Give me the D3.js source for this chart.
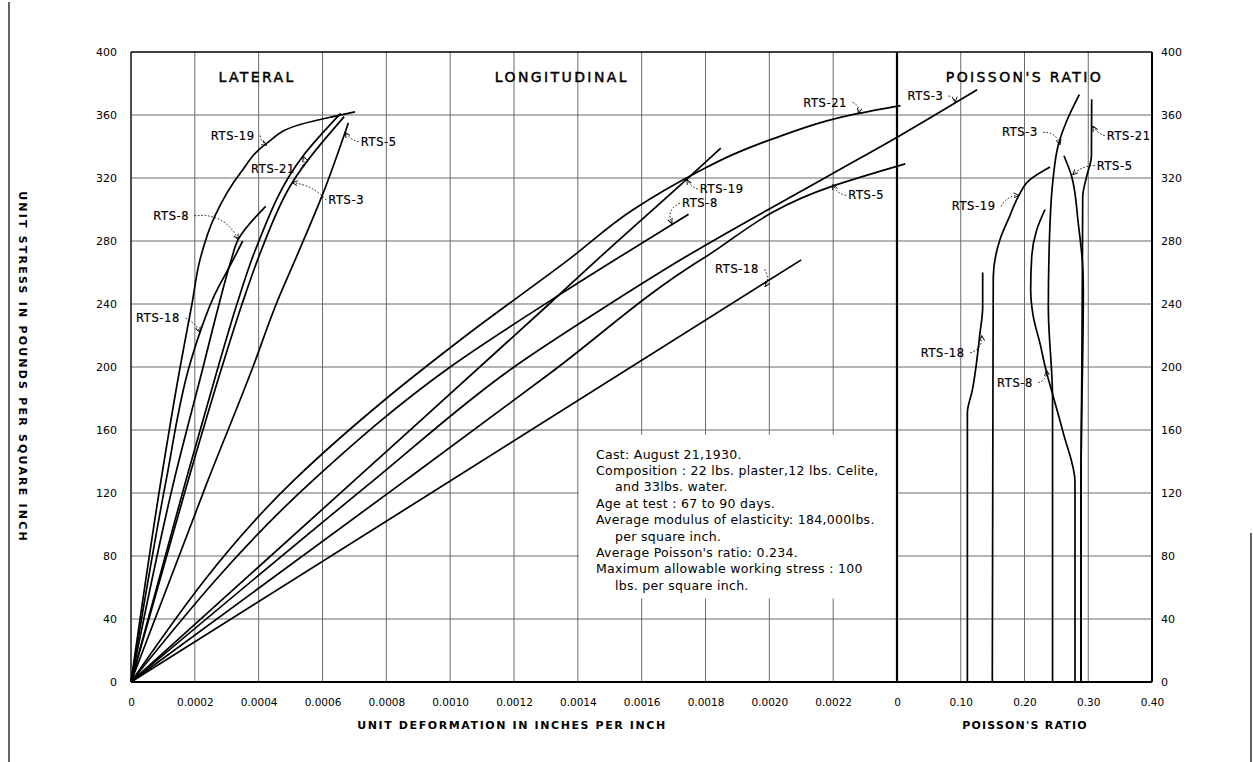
<!DOCTYPE html>
<html>
<head>
<meta charset="utf-8">
<script src="https://cdn.jsdelivr.net/npm/d3@7"></script>
<style>
  body { margin: 0; background: #fff; }
  svg { display: block; font-family: "DejaVu Sans", "Liberation Sans", sans-serif; }
</style>
</head>
<body>
<svg id="chart" width="1253" height="762"></svg>
<script>
// ---- tick values ----
const stressTicks  = [0, 40, 80, 120, 160, 200, 240, 280, 320, 360, 400];
const strainTicks  = [0, 0.0002, 0.0004, 0.0006, 0.0008, 0.0010, 0.0012, 0.0014, 0.0016, 0.0018, 0.0020, 0.0022];
const poissonTicks = [0, 0.10, 0.20, 0.30, 0.40];

// ---- lateral deformation: [unit strain, stress psi] ----
const latRTS19 = [[0,0],[0.000094,128],[0.000154,200],[0.000191,240],[0.000216,268],[0.000263,296],[0.000342,323],[0.000425,342],[0.00053,354],[0.000633,359],[0.000702,362]];
const latRTS18 = [[0,0],[0.00011,128],[0.000182,200],[0.000216,222],[0.00026,245],[0.00032,268],[0.00035,280]];
const latRTS8  = [[0,0],[0.000135,128],[0.000226,200],[0.000276,240],[0.000314,268],[0.000336,281],[0.000422,302]];
const latRTS21 = [[0,0],[0.000172,128],[0.000273,200],[0.000332,240],[0.000389,274],[0.000539,334],[0.000657,361]];
const latRTS3  = [[0,0],[0.000179,128],[0.000285,200],[0.000348,240],[0.000408,274],[0.000505,317],[0.000668,359]];
const latRTS5  = [[0,0],[0.000241,128],[0.000382,200],[0.000455,240],[0.000527,274],[0.000605,312],[0.000681,355]];

// ---- longitudinal deformation: [unit strain, stress psi] ----
const lonRTS21 = [[0,0],[0.00051,128],[0.0008,180],[0.00105,220],[0.00137,268],[0.001574,300],[0.001768,323],[0.001887,335],[0.002013,345],[0.002279,361],[0.002411,366]];
const lonRTS8  = [[0,0],[0.00057,128],[0.0010,200],[0.001313,242],[0.001524,269],[0.001747,297]];
const lonRTS19 = [[0,0],[0.0007,128],[0.00131,240],[0.00146,268],[0.00174,319],[0.001848,339]];
const lonRTS3  = [[0,0],[0.00076,128],[0.0012,200],[0.0015,240],[0.00173,269],[0.0022,323],[0.00241,347],[0.002651,376]];
const lonRTS5  = [[0,0],[0.00086,128],[0.001313,196],[0.001793,269],[0.0022,315],[0.002426,329]];
const lonRTS18 = [[0,0],[0.0021,268]];

// ---- Poisson's ratio: [ratio, stress psi] ----
const poiRTS18 = [[0.1104,0],[0.1104,171],[0.118,185],[0.130,221],[0.1344,238],[0.1344,260]];
const poiRTS19 = [[0.1495,0],[0.1505,180],[0.151,257],[0.1616,281],[0.177,296],[0.19,308],[0.2086,319],[0.24,327]];
const poiRTS3  = [[0.244,0],[0.244,180],[0.2374,238],[0.24,291],[0.2447,319],[0.253,341],[0.266,356],[0.286,373]];
const poiRTS8  = [[0.2792,0],[0.2792,127],[0.2609,158],[0.2453,181],[0.2337,198],[0.2243,215],[0.2138,232],[0.2097,249],[0.2113,270],[0.2191,287],[0.2322,300]];
const poiRTS5  = [[0.2886,0],[0.2886,126],[0.2923,249],[0.2913,264],[0.2844,291],[0.274,321],[0.262,334]];
const poiRTS21 = [[0.2886,0],[0.2886,126],[0.290,200],[0.291,280],[0.2913,308],[0.2975,321],[0.305,334],[0.3054,370]];

// ---- curve labels: text anchor (tx, ty) and leader tip (ax, ay), in each panel's units ----
const strainLabels = [
  {text: "RTS-19", tx: 0.000250, ty: 347, ax: 0.000425, ay: 341, bend: 0.3},
  {text: "RTS-21", tx: 0.000376, ty: 326, ax: 0.00054,  ay: 334, bend: 0.3},
  {text: "RTS-5",  tx: 0.00072,  ty: 343, ax: 0.000671, ay: 349, bend: -0.2},
  {text: "RTS-3",  tx: 0.000618, ty: 306, ax: 0.000505, ay: 317, bend: 0.2},
  {text: "RTS-8",  tx: 0.00007,  ty: 296, ax: 0.000336, ay: 281, bend: -0.35},
  {text: "RTS-18", tx: 0.0000157, ty: 231, ax: 0.000216, ay: 222, bend: -0.2},
  {text: "RTS-21", tx: 0.002106, ty: 368, ax: 0.00228,  ay: 361, bend: -0.4},
  {text: "RTS-19", tx: 0.001782, ty: 313, ax: 0.001742, ay: 319, bend: -0.2},
  {text: "RTS-8",  tx: 0.001726, ty: 304, ax: 0.001695, ay: 291, bend: 0.5},
  {text: "RTS-5",  tx: 0.002247, ty: 309, ax: 0.0022,   ay: 316, bend: -0.3},
  {text: "RTS-18", tx: 0.00183,  ty: 262, ax: 0.001987, ay: 251, bend: -0.3},
  {text: "RTS-3",  tx: 0.002433, ty: 372, ax: 0.002583, ay: 368, bend: -0.4}
];
const poissonLabels = [
  {text: "RTS-3",  tx: 0.1647, ty: 349, ax: 0.2557, ay: 341, bend: -0.4},
  {text: "RTS-21", tx: 0.329,  ty: 347, ax: 0.307,  ay: 353, bend: -0.2},
  {text: "RTS-5",  tx: 0.3133, ty: 328, ax: 0.2756, ay: 322, bend: 0.2},
  {text: "RTS-19", tx: 0.0858, ty: 302, ax: 0.1914, ay: 309, bend: -0.3},
  {text: "RTS-18", tx: 0.0372, ty: 209, ax: 0.1329, ay: 220, bend: 0.4},
  {text: "RTS-8",  tx: 0.1569, ty: 190, ax: 0.2348, ay: 198, bend: 0.4}
];

const sectionTitles = [
  {text: "LATERAL",         panel: "strain",  at: 0.000395},
  {text: "LONGITUDINAL",    panel: "strain",  at: 0.00135},
  {text: "POISSON'S RATIO", panel: "poisson", at: 0.2}
];

const noteLines = [
  {text: "Cast: August 21,1930.", indent: false},
  {text: "Composition : 22 lbs. plaster,12 lbs. Celite,", indent: false},
  {text: "and 33lbs. water.", indent: true},
  {text: "Age at test : 67 to 90 days.", indent: false},
  {text: "Average modulus of elasticity: 184,000lbs.", indent: false},
  {text: "per square inch.", indent: true},
  {text: "Average Poisson's ratio: 0.234.", indent: false},
  {text: "Maximum allowable working stress : 100", indent: false},
  {text: "lbs. per square inch.", indent: true}
];

// ---- layout ----
const svg = d3.select("#chart");
const L = 131, S = 897, R = 1152, T = 52, B = 682;

const y  = d3.scaleLinear().domain([0, 400]).range([B, T]);
const xs = d3.scaleLinear().domain([0, 0.0024]).range([L, S]);
const xp = d3.scaleLinear().domain([0, 0.4]).range([S, R]);

// outer frame of the sheet
svg.append("line").attr("x1", 9).attr("x2", 9).attr("y1", 2).attr("y2", 762)
  .attr("stroke", "#111").attr("stroke-width", 1.3);
svg.append("line").attr("x1", 1251).attr("x2", 1251).attr("y1", 533).attr("y2", 762)
  .attr("stroke", "#111").attr("stroke-width", 1.3);

// ---- grid ----
const grid = svg.append("g").attr("stroke", "#6a6a6a").attr("stroke-width", 1);
grid.selectAll("line.h").data(stressTicks.slice(1, -1)).join("line")
  .attr("x1", L).attr("x2", R).attr("y1", d => y(d)).attr("y2", d => y(d));
grid.selectAll("line.vs").data(strainTicks.slice(1)).join("line")
  .attr("x1", d => xs(d)).attr("x2", d => xs(d)).attr("y1", T).attr("y2", B);
grid.selectAll("line.vp").data(poissonTicks.slice(1, -1)).join("line")
  .attr("x1", d => xp(d)).attr("x2", d => xp(d)).attr("y1", T).attr("y2", B);

// note panel blanks out the grid behind it
svg.append("rect").attr("x", xs(0.00140) + 1).attr("y", y(157))
  .attr("width", S - xs(0.00140) - 2).attr("height", y(53) - y(157))
  .attr("fill", "#fff");

// ---- border and panel divider ----
const frame = svg.append("g").attr("stroke", "#000").attr("fill", "none");
frame.append("line").attr("x1", L).attr("x2", R).attr("y1", T).attr("y2", T).attr("stroke-width", 1.4);
frame.append("line").attr("x1", L).attr("x2", R).attr("y1", B).attr("y2", B).attr("stroke-width", 2);
frame.append("line").attr("x1", L).attr("x2", L).attr("y1", T).attr("y2", B).attr("stroke-width", 1.4);
frame.append("line").attr("x1", R).attr("x2", R).attr("y1", T).attr("y2", B).attr("stroke-width", 2);
frame.append("line").attr("x1", S).attr("x2", S).attr("y1", T).attr("y2", B).attr("stroke-width", 2.2);

// ---- axes ----
function styleAxis(g) {
  g.select(".domain").remove();
  g.selectAll("line").remove();
  g.selectAll("text").attr("font-size", 11).attr("fill", "#000")
    .attr("font-family", "\"DejaVu Sans\", sans-serif");
}
svg.append("g").attr("transform", `translate(${L},0)`)
  .call(d3.axisLeft(y).tickValues(stressTicks).tickSize(0).tickPadding(14))
  .call(styleAxis);
svg.append("g").attr("transform", `translate(${R},0)`)
  .call(d3.axisRight(y).tickValues(stressTicks).tickSize(0).tickPadding(9))
  .call(styleAxis);
svg.append("g").attr("transform", `translate(0,${B})`)
  .call(d3.axisBottom(xs).tickValues(strainTicks).tickSize(0).tickPadding(17)
    .tickFormat(d => d === 0 ? "0" : d.toFixed(4)))
  .call(styleAxis)
  .selectAll("text").attr("font-size", 10.5);
svg.append("g").attr("transform", `translate(0,${B})`)
  .call(d3.axisBottom(xp).tickValues(poissonTicks).tickSize(0).tickPadding(17)
    .tickFormat(d => d === 0 ? "0" : d.toFixed(2)))
  .call(styleAxis)
  .selectAll("text").attr("font-size", 10.5);

// axis titles
svg.append("text").attr("x", 512).attr("y", 729).attr("text-anchor", "middle")
  .attr("font-size", 11).attr("letter-spacing", 1.6).attr("font-weight", "bold")
  .text("UNIT DEFORMATION IN INCHES PER INCH");
svg.append("text").attr("x", 1025).attr("y", 729).attr("text-anchor", "middle")
  .attr("font-size", 11).attr("letter-spacing", 1.2).attr("font-weight", "bold")
  .text("POISSON'S RATIO");
svg.append("text").attr("transform", `translate(19,${(T + B) / 2}) rotate(90)`)
  .attr("text-anchor", "middle").attr("font-size", 11).attr("letter-spacing", 2.2)
  .attr("font-weight", "bold")
  .text("UNIT STRESS IN POUNDS PER SQUARE INCH");

// section titles
svg.selectAll("text.section").data(sectionTitles).join("text")
  .attr("x", d => d.panel === "strain" ? xs(d.at) : xp(d.at))
  .attr("y", 82).attr("text-anchor", "middle")
  .attr("font-size", 14).attr("letter-spacing", 2.4)
  .attr("stroke", "#000").attr("stroke-width", 0.45)
  .text(d => d.text);

// ---- curves ----
const strainLine = d3.line().x(d => xs(d[0])).y(d => y(d[1])).curve(d3.curveMonotoneY);
const poissonLine = d3.line().x(d => xp(d[0])).y(d => y(d[1])).curve(d3.curveMonotoneY);

const strainSeries = [latRTS19, latRTS18, latRTS8, latRTS21, latRTS3, latRTS5,
                      lonRTS21, lonRTS8, lonRTS19, lonRTS3, lonRTS5, lonRTS18];
const poissonSeries = [poiRTS18, poiRTS19, poiRTS3, poiRTS8, poiRTS5, poiRTS21];

const curves = svg.append("g").attr("fill", "none").attr("stroke", "#000")
  .attr("stroke-width", 1.7).attr("stroke-linejoin", "round");
curves.selectAll("path.s").data(strainSeries).join("path").attr("d", strainLine);
curves.selectAll("path.p").data(poissonSeries).join("path").attr("d", poissonLine);

// ---- curve labels with dotted leaders ----
svg.append("defs").append("marker").attr("id", "tip")
  .attr("viewBox", "0 0 6 6").attr("refX", 5.5).attr("refY", 3)
  .attr("markerWidth", 6).attr("markerHeight", 6).attr("orient", "auto")
  .attr("markerUnits", "userSpaceOnUse")
  .append("path").attr("d", "M0,0.5 L5.5,3 L0,5.5").attr("fill", "none")
  .attr("stroke", "#000").attr("stroke-width", 0.9);

function drawLabels(data, xScale) {
  const g = svg.append("g");
  data.forEach(d => {
    const tx = xScale(d.tx), ty = y(d.ty);
    const t = g.append("text").attr("x", tx).attr("y", ty).attr("dy", "0.36em")
      .attr("font-size", 11.5).attr("letter-spacing", 0.6)
      .attr("stroke", "#000").attr("stroke-width", 0.2).text(d.text);
    const w = t.node().getComputedTextLength() + 0.6 * d.text.length;
    const ax = xScale(d.ax), ay = y(d.ay);
    const sx = ax >= tx + w / 2 ? tx + w + 2 : tx - 2;
    const sy = ty;
    const mx = (sx + ax) / 2, my = (sy + ay) / 2;
    const dx = ax - sx, dy = ay - sy;
    const cx = mx - dy * d.bend, cy = my + dx * d.bend;
    g.append("path").attr("d", `M${sx},${sy} Q${cx},${cy} ${ax},${ay}`)
      .attr("fill", "none").attr("stroke", "#000").attr("stroke-width", 0.9)
      .attr("stroke-dasharray", "1.6,1.8").attr("marker-end", "url(#tip)");
  });
}
drawLabels(strainLabels, xs);
drawLabels(poissonLabels, xp);

// ---- test notes ----
const note = svg.append("g").attr("font-size", 12.5);
note.selectAll("text").data(noteLines).join("text")
  .attr("x", d => d.indent ? 615 : 596)
  .attr("y", (d, i) => 454 + i * 16.4).attr("dy", "0.36em")
  .attr("letter-spacing", 0.3)
  .text(d => d.text);
</script>
</body>
</html>
